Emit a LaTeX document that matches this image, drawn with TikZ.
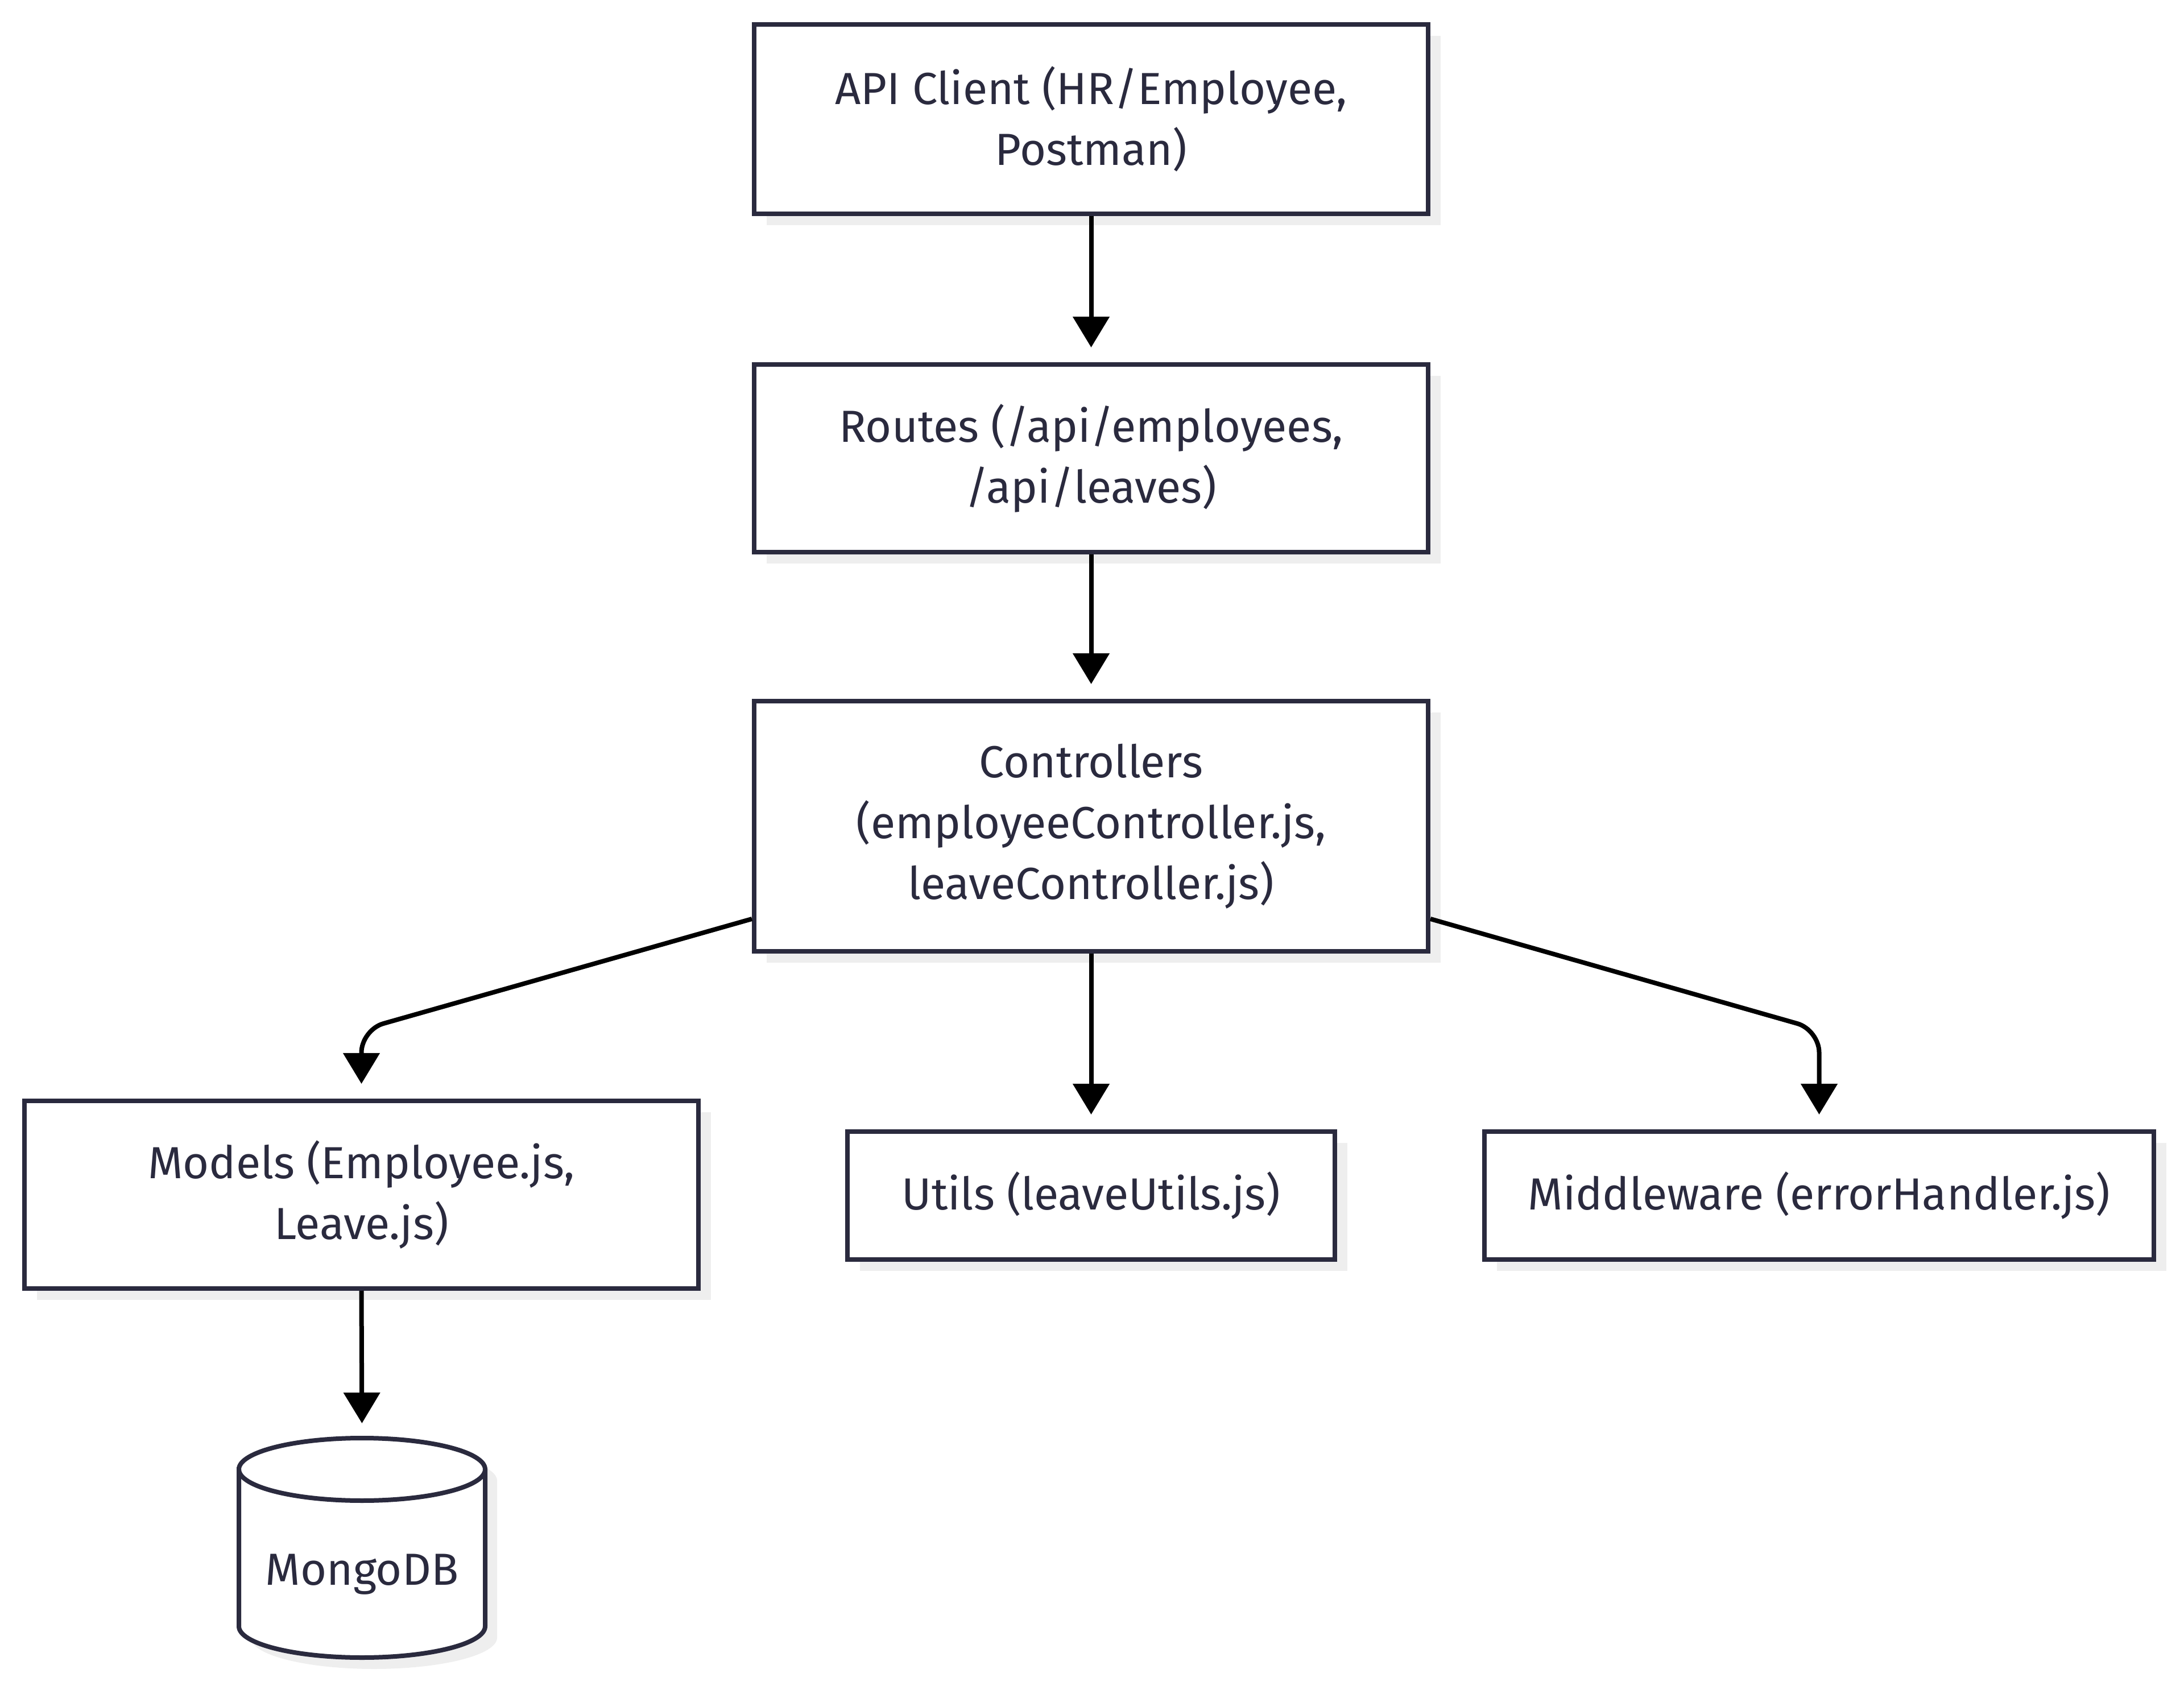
\documentclass[tikz,border=0pt]{standalone}
\usepackage{fontspec}
\setmainfont{Fira Sans}
\usepackage{tikz}
\usetikzlibrary{
  arrows.meta,
  calc,
  positioning,
  shadows
}
\definecolor{boxStroke}{RGB}{42,42,62}
\definecolor{shadowFill}{RGB}{238,238,238}
\colorlet{ink}{black}
\tikzset{
  >={Triangle[length=5.4mm,width=6.3mm]},
  arrow/.style={-{Triangle[length=5.4mm,width=6.3mm]}, draw=ink, line width=0.8mm, shorten >=2.6mm},
  layerbox/.style={
    draw=boxStroke,
    fill=white,
    line width=0.8mm,
    inner sep=0pt,
    align=center,
    text=boxStroke,
    font=\fontsize{22.5}{30.4}\selectfont,
    drop shadow={shadow xshift=2.2mm, shadow yshift=-2mm, fill=shadowFill, opacity=1}
  },
  dblabel/.style={inner sep=0pt, outer sep=0pt, text=boxStroke, font=\fontsize{22.5}{30.4}\selectfont}
}

\begin{document}
\begin{tikzpicture}[x=1cm,y=1cm]
  \useasboundingbox (0,0) rectangle (38.4,29.64);

  \node[layerbox, minimum width=11.85cm, minimum height=3.33cm] (client) at (19.185,27.545) {API Client (HR/Employee,\\Postman)};
  \node[layerbox, minimum width=11.85cm, minimum height=3.30cm] (routes) at (19.185,21.58) {Routes (/api/employees,\\/api/leaves)};
  \node[layerbox, minimum width=11.85cm, minimum height=4.40cm] (ctrl) at (19.185,15.11) {Controllers\\(employeeController.js,\\leaveController.js)};

  \node[layerbox, minimum width=11.85cm, minimum height=3.30cm] (models) at (6.355,8.63) {Models (Employee.js,\\Leave.js)};
  \node[layerbox, minimum width=8.57cm, minimum height=2.25cm] (utils) at (19.185,8.615) {Utils (leaveUtils.js)};
  \node[layerbox, minimum width=11.77cm, minimum height=2.25cm] (mware) at (31.985,8.615) {Middleware (errorHandler.js)};

  % database cylinder
  \fill[shadowFill] (4.41,3.60) -- (4.41,0.84) arc[start angle=180,end angle=360,x radius=2.165,y radius=0.55] -- (8.74,3.60) arc[start angle=0,end angle=180,x radius=2.165,y radius=0.55] -- cycle;
  \filldraw[fill=white, draw=boxStroke, line width=0.8mm] (4.20,3.80) -- (4.20,1.04) arc[start angle=180,end angle=360,x radius=2.165,y radius=0.55] -- (8.53,3.80) arc[start angle=0,end angle=180,x radius=2.165,y radius=0.55] -- cycle;
  \draw[boxStroke, line width=0.8mm] (4.20,3.80) arc[start angle=180,end angle=360,x radius=2.165,y radius=0.55];
  \node[dblabel, minimum width=4.33cm, minimum height=3.86cm, text height=1.4cm, text depth=0.1cm] (db) at (6.365,2.42) {MongoDB};

  \draw[arrow] (client.south) -- (routes.north);
  \draw[arrow] (routes.south) -- (ctrl.north);
  \draw[arrow] (ctrl.south) -- (utils.north);
  \draw[arrow, rounded corners=0.4cm] ($(ctrl.south west)+(0,0.61)$) -- (models.north |- 0,11.53) -- (models.north);
  \draw[arrow, rounded corners=0.4cm] ($(ctrl.south east)+(0,0.61)$) -- (mware.north |- 0,11.53) -- (mware.north);
  \draw[arrow] (models.south) -- (db.north);
\end{tikzpicture}
\end{document}
